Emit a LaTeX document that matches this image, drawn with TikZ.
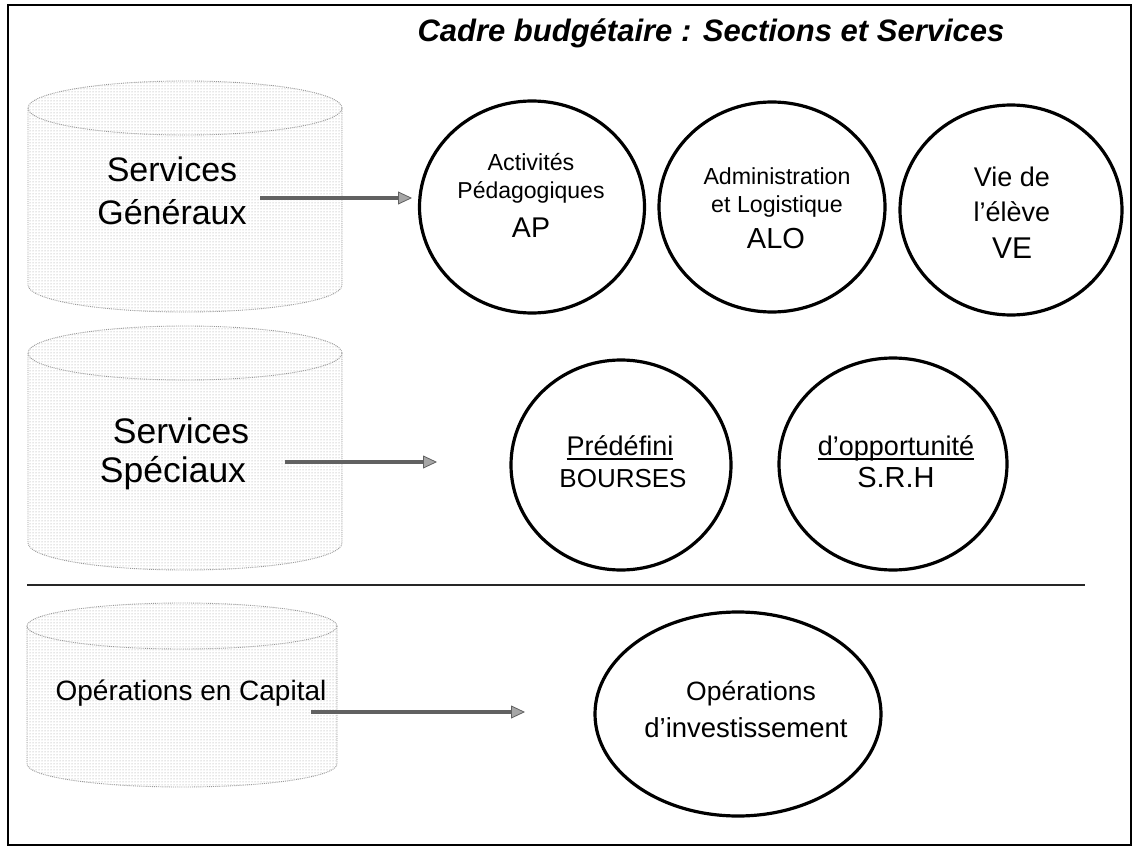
\documentclass[tikz,border=0pt]{standalone}
\usepackage{fontspec}
\setmainfont{Liberation Sans}
\usetikzlibrary{arrows.meta,shapes.geometric,patterns}
\newcommand\myfs[1]{\fontsize{#1}{#1}\selectfont}
\begin{document}
\begin{tikzpicture}[x=1pt,y=-1pt,
  cylfill/.style={pattern=dots, pattern color=black!40, draw=none},
  cylline/.style={draw=black!40, densely dotted, line width=0.9pt},
  oval/.style={ellipse, draw=black, line width=3.2pt, inner sep=0pt},
  txt/.style={anchor=base, inner sep=0pt, text=black},
  arr/.style={line width=4.5pt, draw=black!62, -{Triangle[length=14pt,width=13pt,line width=0.8pt,fill=black!35]}},
  uline/.style={line width=1.4pt, draw=black},
]
\fill[white] (0,0) rectangle (1133,848);
\useasboundingbox (0,0) rectangle (1133,848);
% frame
\draw[line width=1.8pt] (8,5) rectangle (1131,845);
% separator
\draw[line width=1.6pt, black!85] (27,585) -- (1085,585);

% cylinder 1
\path[cylfill] (28,108) -- (28,285) arc[start angle=180,end angle=0,x radius=157,y radius=27] -- (342,108) arc[start angle=0,end angle=-180,x radius=157,y radius=27] -- cycle;
\draw[cylline] (185,108) ellipse[x radius=157,y radius=27];
\draw[cylline] (28,108) -- (28,285) arc[start angle=180,end angle=0,x radius=157,y radius=27] -- (342,108);
% cylinder 2
\path[cylfill] (28,353) -- (28,543) arc[start angle=180,end angle=0,x radius=157,y radius=27] -- (342,353) arc[start angle=0,end angle=-180,x radius=157,y radius=27] -- cycle;
\draw[cylline] (185,353) ellipse[x radius=157,y radius=27];
\draw[cylline] (28,353) -- (28,543) arc[start angle=180,end angle=0,x radius=157,y radius=27] -- (342,353);
% cylinder 3
\path[cylfill] (27,626) -- (27,764) arc[start angle=180,end angle=0,x radius=155,y radius=23] -- (337,626) arc[start angle=0,end angle=-180,x radius=155,y radius=23] -- cycle;
\draw[cylline] (182,626) ellipse[x radius=155,y radius=23];
\draw[cylline] (27,626) -- (27,764) arc[start angle=180,end angle=0,x radius=155,y radius=23] -- (337,626);

% title
\node[txt, font=\myfs{31}\bfseries\itshape] (title) at (711,42) {Cadre budgétaire : Sections et Services};

% cylinder labels
\node[txt, font=\myfs{34}] (sg1) at (172,182) {Services};
\node[txt, font=\myfs{34}] (sg2) at (172,224) {Généraux};
\node[txt, font=\myfs{35.5}] (ss1) at (181,443) {Services};
\node[txt, font=\myfs{35.5}] (ss2) at (173,482) {Spéciaux};
\node[txt, font=\myfs{28}] (oc) at (191,700) {Opérations en Capital};

% ellipses
\node[oval, minimum width=225pt, minimum height=212pt] (ap) at (532,207) {};
\node[oval, minimum width=226pt, minimum height=210pt] (alo) at (772,207) {};
\node[oval, minimum width=222pt, minimum height=210pt] (ve) at (1011,210) {};
\node[oval, minimum width=220pt, minimum height=210pt] (bou) at (621,465) {};
\node[oval, minimum width=228pt, minimum height=212pt] (srh) at (893,464) {};
\node[oval, minimum width=286pt, minimum height=204pt] (inv) at (738,714) {};

% ellipse texts
\node[txt, font=\myfs{23.3}] (ap1) at (531,171) {Activités};
\node[txt, font=\myfs{23}] (ap2) at (531,199) {Pédagogiques};
\node[txt, font=\myfs{28.5}] (ap3) at (531,237) {AP};
\node[txt, font=\myfs{23.2}] (alo1) at (777,185) {Administration};
\node[txt, font=\myfs{23.2}] (alo2) at (777,212) {et Logistique};
\node[txt, font=\myfs{29}] (alo3) at (776,248) {ALO};
\node[txt, font=\myfs{27}] (ve1) at (1012,186) {Vie de};
\node[txt, font=\myfs{27}] (ve2) at (1012,221) {l’élève};
\node[txt, font=\myfs{30}] (ve3) at (1012,258) {VE};
\node[txt, font=\myfs{27}] (bou1) at (620,455) {Prédéfini};
\node[txt, font=\myfs{26}] (bou2) at (623,487) {BOURSES};
\node[txt, font=\myfs{27}] (srh1) at (896,455) {d’opportunité};
\node[txt, font=\myfs{29}] (srh2) at (896,487) {S.R.H};
\node[txt, font=\myfs{26.5}] (inv1) at (751,700) {Opérations};
\node[txt, font=\myfs{27.5}] (inv2) at (746,737) {d’investissement};

% underlines
\draw[uline] ([yshift=-4pt]bou1.base west) -- ([yshift=-4pt]bou1.base east);
\draw[uline] ([yshift=-4pt]srh1.base west) -- ([yshift=-4pt]srh1.base east);

% arrows
\coordinate (a1s) at (260,198);
\coordinate (a1e) at (412,198);
\coordinate (a2s) at (285,462);
\coordinate (a2e) at (437,462);
\coordinate (a3s) at (311,712);
\coordinate (a3e) at (525,712);
\draw[arr] (a1s) -- (a1e);
\draw[arr] (a2s) -- (a2e);
\draw[arr] (a3s) -- (a3e);
\end{tikzpicture}
\end{document}
